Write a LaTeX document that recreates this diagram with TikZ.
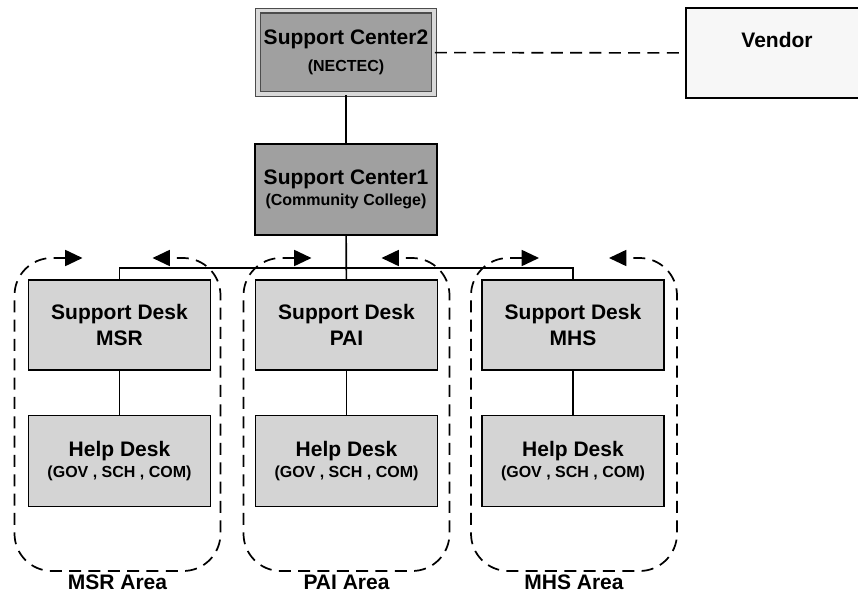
\documentclass[tikz,border=0pt]{standalone}
\usepackage{fontspec}
\setmainfont{Liberation Sans}
\usetikzlibrary{arrows.meta}
\definecolor{centergray}{RGB}{160,160,160}
\definecolor{deskgray}{RGB}{212,212,212}
\definecolor{vendorgray}{RGB}{247,247,247}
\newcommand{\subtext}[1]{{\fontsize{12}{14}\selectfont #1}}

\begin{document}
\begin{tikzpicture}[x=0.75pt,y=-0.75pt,
  box/.style={draw, line width=1.2pt, minimum width=136.5pt, minimum height=67.5pt,
    align=center, inner sep=2pt, font=\fontsize{15.75}{16}\selectfont\bfseries},
  centerbox/.style={box, fill=centergray},
  deskbox/.style={box, fill=deskgray},
  link/.style={line width=1.2pt},
  area/.style={dash pattern=on 9pt off 5.5pt, line width=1.3pt, rounded corners=28pt,
    {Triangle[length=13pt,width=12pt]}-{Triangle[length=13pt,width=12pt]}},
  arealabel/.style={inner sep=0pt, font=\fontsize{15.75}{16}\selectfont\bfseries}]
\clip (0,0) rectangle (858,592);
\fill[white] (0,0) rectangle (858,592);

% Support centers
\node[centerbox, draw=gray!60!black, double=gray!30, double distance=2.5pt,
  minimum width=132pt, minimum height=62.5pt] (sc2) at (346,52.5)
  {Support Center2\\[4pt]\subtext{(NECTEC)}};
\node[centerbox, minimum height=68.25pt] (sc1) at (346,189.5)
  {Support Center1\\\subtext{(Community College)}};

% Vendor
\node[box, fill=vendorgray, label={[anchor=north, inner sep=0pt, yshift=-18.75pt,
  font=\fontsize{15.75}{16}\selectfont\bfseries]north:Vendor}] (vendor) at (777,53) {};
\draw[link, dash pattern=on 9pt off 5.5pt] (sc2) -- (vendor);

% Areas
\foreach \cx/\ax/\name/\tag in {119.5/117.5/msr/MSR, 346.5/346.5/pai/PAI, 573/574/mhs/MHS} {
  \node[deskbox] (desk\name) at (\cx,325) {Support Desk\\[3.5pt]\tag};
  \node[deskbox, minimum height=68.25pt] (help\name) at (\cx,461)
    {Help Desk\\\subtext{(GOV , SCH , COM)}};
  \draw[link] (desk\name) -- (help\name);
  \draw[area] (\ax-35,258) -- (\ax-103,258) -- (\ax-103,571) -- (\ax+103,571)
    -- (\ax+103,258) -- (\ax+35,258);
  \node[arealabel] (area\name) at (\ax,582) {\tag\ Area};
}

% Hierarchy
\draw[link] (sc2) -- (sc1);
\draw[link] (sc1) -- (deskpai);
\draw[link] (deskmsr.north) -- ++(0,-11) -| (deskmhs.north);
\end{tikzpicture}
\end{document}
